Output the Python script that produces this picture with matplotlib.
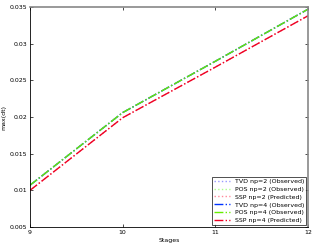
import matplotlib
matplotlib.use("Agg")
import matplotlib.pyplot as plt

stages = [9, 10, 11, 12]
tvd_np2 = [0.0107, 0.0206, 0.0276, 0.0347]
pos_np2 = [0.0107, 0.0206, 0.0276, 0.0347]
ssp_np2 = [0.0100, 0.0199, 0.0268, 0.0338]
tvd_np4 = [0.0107, 0.0206, 0.0276, 0.0347]
pos_np4 = [0.0107, 0.0206, 0.0276, 0.0347]
ssp_np4 = [0.0100, 0.0199, 0.0268, 0.0338]

plt.rcParams['font.family'] = 'DejaVu Sans'
plt.rcParams['font.size'] = 4.5

fig = plt.figure(figsize=(3.15, 2.46), dpi=100)
ax = fig.add_axes([30/315, 19/246, 278/315, 220/246])

ax.plot(stages, tvd_np2, ':', color='#9999ff', lw=1, label='TVD np=2 (Observed)')
ax.plot(stages, pos_np2, ':', color='#aaff88', lw=1, label='POS np=2 (Observed)')
ax.plot(stages, ssp_np2, ':', color='#ff8899', lw=1, label='SSP np=2 (Predicted)')
ax.plot(stages, tvd_np4, '-.', color='#0033ff', lw=1.0, label='TVD np=4 (Observed)')
ax.plot(stages, pos_np4, '-.', color='#66ee00', lw=1.0, label='POS np=4 (Observed)')
ax.plot(stages, ssp_np4, '-.', color='#ee0022', lw=1.0, label='SSP np=4 (Predicted)')

ax.set_xlim(9, 12)
ax.set_ylim(0.005, 0.035)
ax.set_xticks([9, 10, 11, 12])
ax.set_yticks([0.005, 0.01, 0.015, 0.02, 0.025, 0.03, 0.035])
ax.set_yticklabels(['0.005', '0.01', '0.015', '0.02', '0.025', '0.03', '0.035'])
ax.tick_params(direction='in', length=2, width=0.5, top=True, right=True, pad=2)
for s in ax.spines.values():
    s.set_linewidth(0.6)
ax.spines['top'].set_color('#888888')
ax.spines['right'].set_color('#888888')
ax.spines['top'].set_linewidth(1.2)
ax.spines['right'].set_linewidth(1.2)
ax.set_xlabel('Stages', labelpad=2)
ax.set_ylabel('max(dt)')
ax.yaxis.set_label_coords(-24/278, 0.5)

leg = ax.legend(loc='lower right', fontsize=4.5, frameon=True, fancybox=False,
                edgecolor='black', borderaxespad=0.3, handlelength=2.5,
                labelspacing=0.4, borderpad=0.3)
leg.get_frame().set_linewidth(0.6)

fig.savefig('out.png', dpi=100)
